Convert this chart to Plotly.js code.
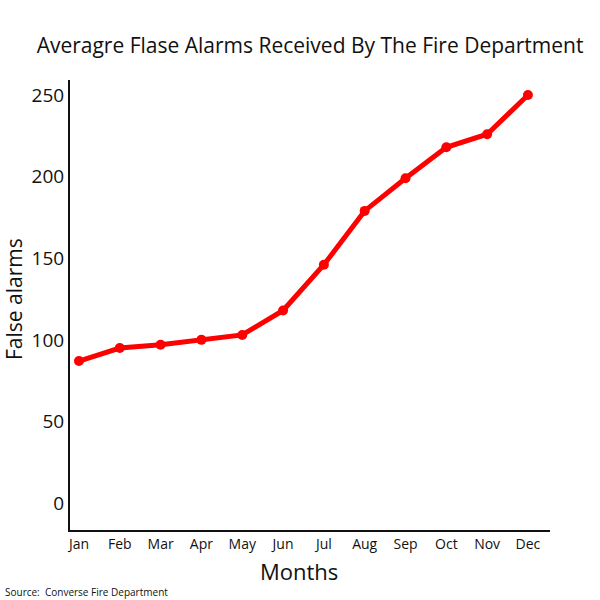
<!DOCTYPE html>
<html>
<head>
<meta charset="utf-8">
<script src="https://cdn.plot.ly/plotly-3.0.1.min.js"></script>
<style>html,body{margin:0;padding:0;background:#fff}#chart{width:600px;height:600px}</style>
</head>
<body>
<div id="chart"></div>
<script>
var months = ["Jan","Feb","Mar","Apr","May","Jun","Jul","Aug","Sep","Oct","Nov","Dec"];
var falseAlarms = [87, 95, 97, 100, 103, 118, 146, 179, 199, 218, 226, 250];
var yTicks = [0, 50, 100, 150, 200, 250];

var FONT = "Open Sans, Lato, sans-serif";

var trace = {
  x: months,
  y: falseAlarms,
  type: "scatter",
  mode: "lines+markers",
  line: {color: "#ff0000", width: 5},
  marker: {color: "#ff0000", size: 10},
  hoverinfo: "x+y"
};

var layout = {
  width: 600, height: 600,
  margin: {l: 70, r: 50, t: 80, b: 70},
  paper_bgcolor: "#ffffff",
  plot_bgcolor: "#ffffff",
  showlegend: false,
  font: {family: FONT, color: "#111111"},
  title: {
    text: "Averagre Flase Alarms Received By The Fire Department",
    font: {family: FONT, size: 21, color: "#111111"},
    x: 310 / 600, xanchor: "center",
    y: 1 - 46/600, yref: "container", yanchor: "middle"
  },
  xaxis: {
    type: "category",
    range: [-0.22, 11.54],
    showline: true, linecolor: "#111111", linewidth: 2,
    showgrid: false, zeroline: false, ticks: "",
    tickfont: {family: FONT, size: 14, color: "#111111"}
  },
  yaxis: {
    range: [-16.5, 259.2],
    tickvals: yTicks,
    ticktext: yTicks.map(String),
    showline: true, linecolor: "#111111", linewidth: 2,
    showgrid: false, zeroline: false, ticks: "",
    tickfont: {family: FONT, size: 19, color: "#111111"}
  },
  annotations: [{
    text: "Months",
    xref: "paper", yref: "paper",
    x: (299 - 70) / 480, y: (530 - 571) / 450,
    xanchor: "center", yanchor: "middle",
    showarrow: false,
    font: {family: FONT, size: 22, color: "#111111"}
  }, {
    text: "False alarms",
    xref: "paper", yref: "paper",
    x: (14 - 70) / 480, y: (530 - 299) / 450,
    xanchor: "center", yanchor: "middle",
    textangle: -90,
    showarrow: false,
    font: {family: FONT, size: 21, color: "#111111"}
  }, {
    text: "Source:  Converse Fire Department",
    xref: "paper", yref: "paper",
    x: (3 - 70) / 480, y: (530 - 592) / 450,
    xanchor: "left", yanchor: "middle",
    showarrow: false,
    font: {family: FONT, size: 10, color: "#111111"}
  }]
};

Plotly.newPlot("chart", [trace], layout, {displayModeBar: false, staticPlot: true});
</script>
</body>
</html>
